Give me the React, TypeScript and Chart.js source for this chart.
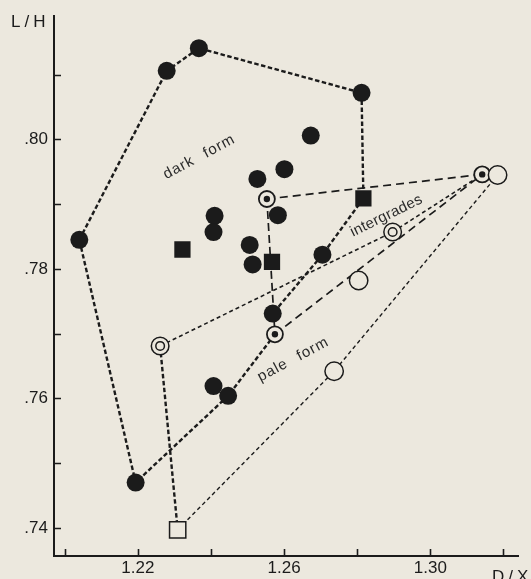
import React, { useEffect, useRef } from 'react';
import { Chart, registerables } from 'chart.js';

Chart.register(...registerables);

const INK = '#1b1b1b';
const BG = '#ece8de';

// ---- data (x = D/X, y = L/H) ----
// dark form (filled circles)
const darkCircleX = [1.2040, 1.2194, 1.2279, 1.2367, 1.2812, 1.2673, 1.2601, 1.2527, 1.2583, 1.2410, 1.2407, 1.2506, 1.2514, 1.2705, 1.2569, 1.2407, 1.2447];
const darkCircleY = [0.7845, 0.7470, 0.8106, 0.8141, 0.8072, 0.8006, 0.7954, 0.7939, 0.7883, 0.7882, 0.7857, 0.7837, 0.7807, 0.7822, 0.7731, 0.7619, 0.7604];
// filled squares
const darkSquareX = [1.2322, 1.2567, 1.2817];
const darkSquareY = [0.7830, 0.7811, 0.7909];
// intergrades (circled dot)
const interDotX = [1.2553, 1.3142, 1.2575];
const interDotY = [0.7908, 0.7946, 0.7699];
// intergrades (double ring)
const interRingX = [1.2897, 1.2261];
const interRingY = [0.7857, 0.7681];
// pale form (open circles)
const paleCircleX = [1.3184, 1.2804, 1.2737];
const paleCircleY = [0.7945, 0.7782, 0.7642];
// open square
const paleSquareX = [1.2309];
const paleSquareY = [0.7397];

// axis ticks
const xTickValues = [1.20, 1.22, 1.24, 1.26, 1.28, 1.30, 1.32];
const xTickLabels = ['', '1.22', '', '1.26', '', '1.30', ''];
const yTickValues = [0.74, 0.75, 0.76, 0.77, 0.78, 0.79, 0.80, 0.81];
const yTickLabels = ['.74', '', '.76', '', '.78', '', '.80', ''];
const xRange = [1.19707, 1.32399];
const yRange = [0.73565, 0.81904];

// outlines, as references to the points above
const darkUpperPath = ['D0', 'D2', 'D3', 'D4', 'S2', 'D13', 'D14'];
const darkLowerPath = ['I2', 'D16', 'D1', 'D0'];
const interTopPath = ['I0', 'I1'];
const interVerticalPath = ['I0', 'I2'];
const interDiagonalPath = ['I2', 'I1'];
const ringPath = ['R1', 'R0', 'I1'];
const ringSquarePath = ['R1', 'Q0'];
const palePath = ['Q0', 'P2', 'P0'];

// region labels
const regionText = ['dark form', 'intergrades', 'pale form'];
const regionX = [1.2368, 1.2880, 1.2625];
const regionY = [0.7973, 0.7882, 0.7660];
const regionAngle = [-28, -26, -28];

const pts = (xs: number[], ys: number[]) => xs.map((x, i) => ({ x, y: ys[i] }));
const groups: Record<string, { x: number; y: number }[]> = {
  D: pts(darkCircleX, darkCircleY),
  S: pts(darkSquareX, darkSquareY),
  I: pts(interDotX, interDotY),
  R: pts(interRingX, interRingY),
  P: pts(paleCircleX, paleCircleY),
  Q: pts(paleSquareX, paleSquareY),
};
const resolve = (path: string[]) => path.map((r) => groups[r[0]][parseInt(r.slice(1), 10)]);

const lineDs = (path: string[], width: number, dash: number[]) => ({
  type: 'scatter' as const,
  data: resolve(path),
  showLine: true,
  borderColor: INK,
  borderWidth: width,
  borderDash: dash,
  pointRadius: 0,
  fill: false,
  order: 10,
});

const overlay = {
  id: 'overlay',
  beforeDraw(chart: any) {
    const { ctx } = chart;
    ctx.save();
    ctx.fillStyle = BG;
    ctx.fillRect(0, 0, chart.width, chart.height);
    ctx.restore();
  },
  afterDraw(chart: any) {
    const { ctx, chartArea } = chart;
    const xs = chart.scales.x;
    const ys = chart.scales.y;
    ctx.save();
    ctx.strokeStyle = INK;
    ctx.lineWidth = 1.6;
    ctx.beginPath();
    yTickValues.forEach((v) => {
      const py = Math.round(ys.getPixelForValue(v)) + 0.5;
      ctx.moveTo(chartArea.left, py);
      ctx.lineTo(chartArea.left + 7, py);
    });
    xTickValues.forEach((v) => {
      const px = Math.round(xs.getPixelForValue(v)) + 0.5;
      ctx.moveTo(px, chartArea.bottom);
      ctx.lineTo(px, chartArea.bottom - 7);
    });
    ctx.stroke();

    ctx.fillStyle = INK;
    ctx.textAlign = 'left';
    ctx.textBaseline = 'alphabetic';
    ctx.font = '17px "Liberation Sans", Arial, sans-serif';
    (ctx as any).letterSpacing = '4px';
    ctx.fillText('L/H', 11, 27);
    ctx.fillText('D/X', 492, 582);

    ctx.font = '15px "Liberation Sans", Arial, sans-serif';
    ctx.fillStyle = '#2a2a2a';
    regionText.forEach((t, i) => {
      const px = xs.getPixelForValue(regionX[i]);
      const py = ys.getPixelForValue(regionY[i]);
      ctx.save();
      ctx.translate(px, py);
      ctx.rotate((regionAngle[i] * Math.PI) / 180);
      (ctx as any).letterSpacing = i === 1 ? '0.3px' : '1px';
      (ctx as any).wordSpacing = i === 1 ? '0px' : '7px';
      ctx.textAlign = 'center';
      ctx.textBaseline = 'middle';
      ctx.fillText(t, 0, 0);
      ctx.restore();
    });
    ctx.restore();
  },
};

export default function App() {
  const ref = useRef<HTMLCanvasElement | null>(null);
  useEffect(() => {
    if (!ref.current) return;
    const chart = new Chart(ref.current, {
      type: 'scatter',
      data: {
        datasets: [
          // markers (drawn on top)
          { type: 'scatter', data: groups.D, pointStyle: 'circle', pointRadius: 9, backgroundColor: INK, borderColor: INK, borderWidth: 0, order: 0 },
          { type: 'scatter', data: groups.S, pointStyle: 'rect', pointRadius: 11.5, backgroundColor: INK, borderColor: INK, borderWidth: 0, order: 0 },
          { type: 'scatter', data: groups.I, pointStyle: 'circle', pointRadius: 3.2, backgroundColor: INK, borderWidth: 0, order: 0 },
          { type: 'scatter', data: groups.I, pointStyle: 'circle', pointRadius: 8, backgroundColor: BG, borderColor: INK, borderWidth: 1.8, order: 1 },
          { type: 'scatter', data: groups.R, pointStyle: 'circle', pointRadius: 4.3, backgroundColor: BG, borderColor: INK, borderWidth: 1.5, order: 0 },
          { type: 'scatter', data: groups.R, pointStyle: 'circle', pointRadius: 8.8, backgroundColor: BG, borderColor: INK, borderWidth: 1.5, order: 1 },
          { type: 'scatter', data: groups.P, pointStyle: 'circle', pointRadius: 9.2, backgroundColor: BG, borderColor: INK, borderWidth: 1.5, order: 0 },
          { type: 'scatter', data: groups.Q, pointStyle: 'rect', pointRadius: 11.5, backgroundColor: BG, borderColor: INK, borderWidth: 1.5, order: 0 },
          // outlines
          lineDs(darkUpperPath, 2.4, [4.5, 2.5]),
          lineDs(darkLowerPath, 2.4, [4.5, 2.5]),
          lineDs(interTopPath, 1.7, [8, 5]),
          lineDs(interVerticalPath, 1.7, [8, 4]),
          lineDs(interDiagonalPath, 1.7, [8, 5]),
          lineDs(ringPath, 1.6, [4, 3]),
          lineDs(ringSquarePath, 2.4, [4.5, 2.5]),
          lineDs(palePath, 1.4, [4, 3]),
        ] as any,
      },
      options: {
        animation: false,
        responsive: false,
        devicePixelRatio: 1,
        events: [],
        layout: { padding: { top: 13, right: 0, left: 0, bottom: 0 } },
        plugins: { legend: { display: false }, tooltip: { enabled: false } },
        scales: {
          x: {
            type: 'linear',
            min: xRange[0],
            max: xRange[1],
            afterBuildTicks: (s: any) => { s.ticks = xTickValues.map((value) => ({ value })); },
            afterFit: (s: any) => { s.height = 23; },
            grid: { display: false, drawTicks: false },
            border: { display: true, color: INK, width: 2 },
            ticks: {
              autoSkip: false,
              maxRotation: 0,
              padding: 2,
              color: INK,
              font: { family: '"Liberation Sans", Arial, sans-serif', size: 17 },
              callback: (v: any) => {
                const i = xTickValues.findIndex((t) => Math.abs(t - Number(v)) < 1e-6);
                return i >= 0 ? xTickLabels[i] : '';
              },
            },
          },
          y: {
            type: 'linear',
            min: yRange[0],
            max: yRange[1],
            afterBuildTicks: (s: any) => { s.ticks = yTickValues.map((value) => ({ value })); },
            afterFit: (s: any) => { s.width = 54; },
            grid: { display: false, drawTicks: false },
            border: { display: true, color: INK, width: 2 },
            ticks: {
              autoSkip: false,
              padding: 6,
              color: INK,
              font: { family: '"Liberation Sans", Arial, sans-serif', size: 17 },
              callback: (v: any) => {
                const i = yTickValues.findIndex((t) => Math.abs(t - Number(v)) < 1e-6);
                return i >= 0 ? yTickLabels[i] : '';
              },
            },
          },
        },
      } as any,
      plugins: [overlay],
    });
    return () => chart.destroy();
  }, []);

  return (
    <div style={{ position: 'fixed', left: 0, top: 0, width: 531, height: 579, background: BG, overflow: 'hidden' }}>
      <canvas ref={ref} width={531} height={579} style={{ display: 'block' }} />
    </div>
  );
}
